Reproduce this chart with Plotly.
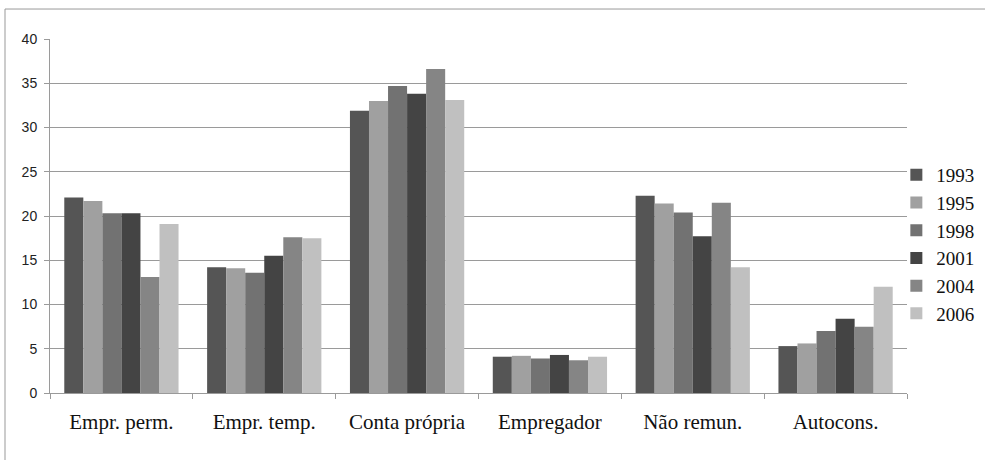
import plotly.graph_objects as go

categories = ["Empr. perm.", "Empr. temp.", "Conta própria", "Empregador", "Não remun.", "Autocons."]
years = ["1993", "1995", "1998", "2001", "2004", "2006"]
values = {
    "1993": [22.1, 14.2, 31.9, 4.1, 22.3, 5.3],
    "1995": [21.7, 14.1, 33.0, 4.2, 21.4, 5.6],
    "1998": [20.3, 13.6, 34.7, 3.9, 20.4, 7.0],
    "2001": [20.3, 15.5, 33.8, 4.3, 17.7, 8.4],
    "2004": [13.1, 17.6, 36.6, 3.7, 21.5, 7.5],
    "2006": [19.1, 17.5, 33.1, 4.1, 14.2, 12.0],
}
colors = {
    "1993": "#555555",
    "1995": "#a0a0a0",
    "1998": "#727272",
    "2001": "#444444",
    "2004": "#858585",
    "2006": "#c0c0c0",
}
y_ticks = [0, 5, 10, 15, 20, 25, 30, 35, 40]

fig = go.Figure()
for yr in years:
    fig.add_trace(go.Bar(
        name=yr, x=categories, y=values[yr],
        marker=dict(color=colors[yr], line=dict(width=0)),
    ))

fig.update_layout(
    width=985, height=460,
    barmode="group", bargap=0.2, bargroupgap=0,
    plot_bgcolor="white", paper_bgcolor="white",
    margin=dict(l=50, r=78, t=39, b=67, autoexpand=False),
    showlegend=True,
    legend=dict(
        xref="container", yref="container",
        x=0.910, xanchor="left", y=0.4685, yanchor="middle",
        font=dict(family="Liberation Serif", size=19, color="#111"),
        itemwidth=30, traceorder="normal", bgcolor="rgba(0,0,0,0)",
    ),
    shapes=[
        dict(type="line", xref="paper", yref="paper", x0=-0.0525, x1=1.2, y0=1.0847, y1=1.0847,
             line=dict(color="#999999", width=1)),
        dict(type="line", xref="paper", yref="paper", x0=-0.0525, x1=-0.0525, y0=1.0847, y1=-0.3,
             line=dict(color="#999999", width=1)),
    ],
)
fig.update_yaxes(
    range=[0, 40], tickvals=y_ticks, showgrid=True, gridcolor="#9a9a9a", gridwidth=1,
    showline=True, linecolor="#9a9a9a", linewidth=1,
    ticks="outside", ticklen=5, tickcolor="#9a9a9a",
    tickfont=dict(family="Liberation Sans", size=14, color="#222"),
    ticklabelstandoff=4,
    zeroline=False, automargin=False,
)
fig.update_xaxes(
    showline=True, linecolor="#9a9a9a", linewidth=1,
    ticks="outside", ticklen=5, tickcolor="#9a9a9a", tickson="boundaries",
    tickfont=dict(family="Liberation Serif", size=21, color="#111"),
    ticklabelstandoff=10, automargin=False,
)

fig.write_html(
    "out.html",
    config={"displayModeBar": False},
    post_script="document.body.style.margin='0';document.body.style.overflow='hidden';",
)
